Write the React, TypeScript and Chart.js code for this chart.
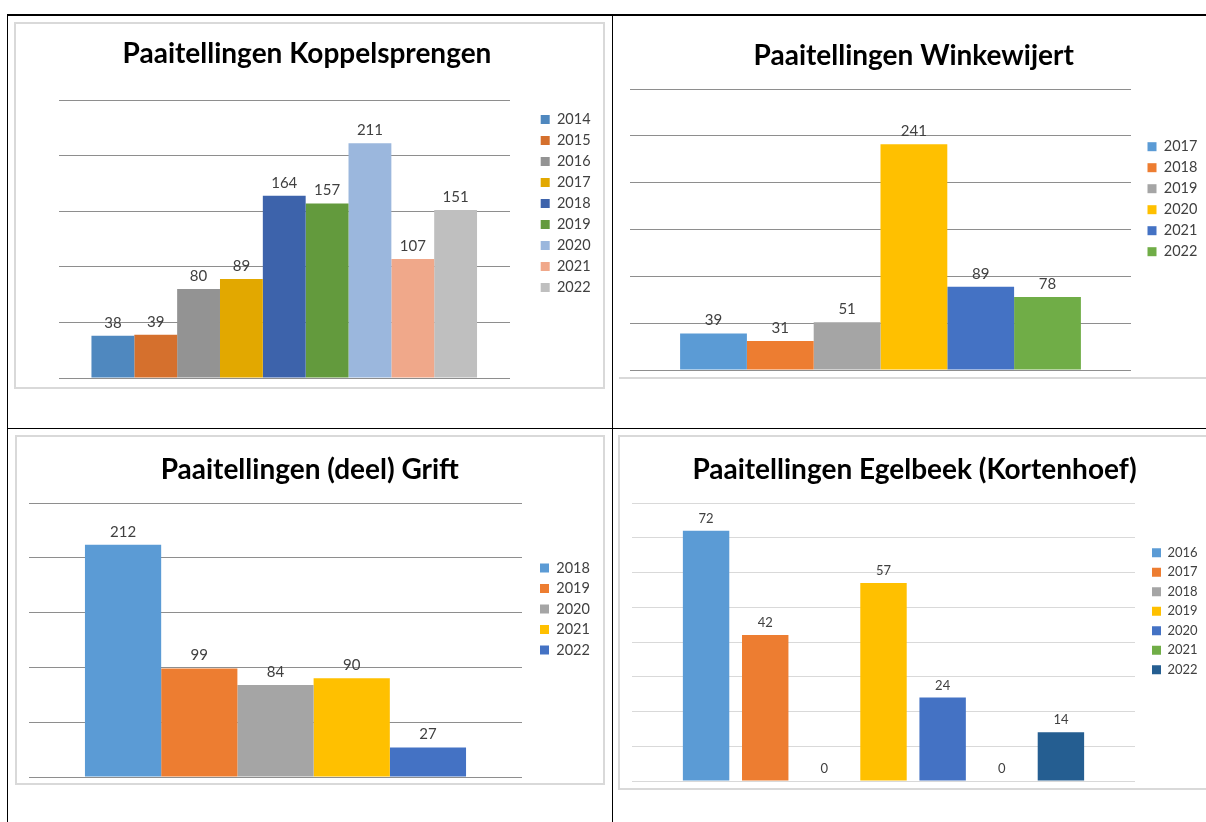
import React, { useEffect, useRef } from "react";
import { Chart, registerables } from "chart.js";

Chart.register(...registerables);

// ---------- data ----------
const koppelTitle = "Paaitellingen Koppelsprengen";
const koppelYears = ["2014", "2015", "2016", "2017", "2018", "2019", "2020", "2021", "2022"];
const koppelValues = [38, 39, 80, 89, 164, 157, 211, 107, 151];
const koppelColors = ["#4f88bf", "#d5702d", "#939393", "#e2a800", "#3d63ab", "#639a3d", "#9bb7dd", "#f0a88a", "#bfbfbf"];
const koppelTicks = [0, 50, 100, 150, 200, 250];

const winkeTitle = "Paaitellingen Winkewijert";
const winkeYears = ["2017", "2018", "2019", "2020", "2021", "2022"];
const winkeValues = [39, 31, 51, 241, 89, 78];
const winkeColors = ["#5b9bd5", "#ed7d31", "#a5a5a5", "#ffc000", "#4472c4", "#70ad47"];
const winkeTicks = [0, 50, 100, 150, 200, 250, 300];

const griftTitle = "Paaitellingen (deel) Grift";
const griftYears = ["2018", "2019", "2020", "2021", "2022"];
const griftValues = [212, 99, 84, 90, 27];
const griftColors = ["#5b9bd5", "#ed7d31", "#a5a5a5", "#ffc000", "#4472c4"];
const griftTicks = [0, 50, 100, 150, 200, 250];

const egelTitle = "Paaitellingen Egelbeek (Kortenhoef)";
const egelYears = ["2016", "2017", "2018", "2019", "2020", "2021", "2022"];
const egelValues = [72, 42, 0, 57, 24, 0, 14];
const egelColors = ["#5b9bd5", "#ed7d31", "#a5a5a5", "#ffc000", "#4472c4", "#70ad47", "#255e91"];
const egelTicks = [0, 10, 20, 30, 40, 50, 60, 70, 80];

// ---------- layout ----------
const LEGEND_W = 58;
const FONT = "Lato, 'Open Sans', sans-serif";

type Spec = {
  title: string;
  years: string[];
  values: number[];
  colors: string[];
  ticks: number[];
  x0: number; y0: number; w: number; h: number;
  plotLeft: number; plotRight: number; plotTop: number; plotBottom: number;
  titleX: number; titleY: number; titleSize: number;
  legendBoxX: number; legendFirst: number; legendSize: number; legendPad: number;
  labelSize: number;
  gridColor: string;
  barPct: number; catPct: number;
};

const specs: Spec[] = [
  {
    title: koppelTitle, years: koppelYears, values: koppelValues, colors: koppelColors, ticks: koppelTicks,
    x0: 14, y0: 22, w: 591, h: 367,
    plotLeft: 58.5, plotRight: 510, plotTop: 100, plotBottom: 378,
    titleX: 307, titleY: 54, titleSize: 28,
    legendBoxX: 540.7, legendFirst: 119.5, legendSize: 14.5, legendPad: 6.5,
    labelSize: 15, gridColor: "#8e8e8e", barPct: 1, catPct: 0.854,
  },
  {
    title: winkeTitle, years: winkeYears, values: winkeValues, colors: winkeColors, ticks: winkeTicks,
    x0: 619, y0: 14, w: 587, h: 364,
    plotLeft: 630, plotRight: 1131, plotTop: 89, plotBottom: 370,
    titleX: 913.7, titleY: 56, titleSize: 28,
    legendBoxX: 1147.5, legendFirst: 146.7, legendSize: 14.5, legendPad: 6.5,
    labelSize: 15, gridColor: "#8e8e8e", barPct: 1, catPct: 0.8,
  },
  {
    title: griftTitle, years: griftYears, values: griftValues, colors: griftColors, ticks: griftTicks,
    x0: 15, y0: 435, w: 590, h: 350,
    plotLeft: 29, plotRight: 522, plotTop: 503, plotBottom: 777,
    titleX: 309.8, titleY: 470, titleSize: 28,
    legendBoxX: 540, legendFirst: 568, legendSize: 14.5, legendPad: 6,
    labelSize: 15, gridColor: "#8e8e8e", barPct: 1, catPct: 0.773,
  },
  {
    title: egelTitle, years: egelYears, values: egelValues, colors: egelColors, ticks: egelTicks,
    x0: 619, y0: 435, w: 587, h: 354,
    plotLeft: 632, plotRight: 1135, plotTop: 503, plotBottom: 781,
    titleX: 914.5, titleY: 470, titleSize: 28,
    legendBoxX: 1152, legendFirst: 552.8, legendSize: 13, legendPad: 6.5,
    labelSize: 13, gridColor: "#d9d9d9", barPct: 0.785, catPct: 0.823,
  },
];

const valueLabels = {
  id: "valueLabels",
  afterDatasetsDraw(chart: any, _args: any, opts: any) {
    const ctx = chart.ctx;
    ctx.save();
    ctx.font = `${opts.size}px ${FONT}`;
    ctx.fillStyle = opts.color;
    ctx.textAlign = "center";
    ctx.textBaseline = "alphabetic";
    chart.data.datasets.forEach((ds: any, i: number) => {
      const meta = chart.getDatasetMeta(i);
      meta.data.forEach((el: any, j: number) => {
        ctx.fillText(String(ds.data[j]), el.x, el.y - opts.gap);
      });
    });
    ctx.restore();
  },
};

function BarPanel({ spec }: { spec: Spec }) {
  const ref = useRef<HTMLCanvasElement>(null);
  useEffect(() => {
    const s = spec;
    const gap = s.legendBoxX - s.legendPad - s.plotRight;
    const pr = s.x0 + s.w - (s.plotRight + gap + LEGEND_W);
    const pl = 2 * (s.titleX - s.x0) - s.w + pr;
    const leftAxis = Math.max(0, s.plotLeft - s.x0 - pl);
    const lh = s.titleSize * 1.2;
    const tTop = s.titleY - s.y0 - lh / 2;
    const tBottom = s.plotTop - s.y0 - tTop - lh;
    const legendTitleH = Math.max(1, s.legendFirst - s.y0 - s.legendPad - s.legendSize / 2);
    const bottomPad = s.y0 + s.h - s.plotBottom;

    const chart = new Chart(ref.current as HTMLCanvasElement, {
      type: "bar",
      data: {
        labels: [""],
        datasets: s.years.map((y, i) => ({
          label: y,
          data: [s.values[i]],
          backgroundColor: s.colors[i],
          borderWidth: 0,
          barPercentage: s.barPct,
          categoryPercentage: s.catPct,
        })),
      },
      options: {
        responsive: false,
        animation: false,
        devicePixelRatio: 1,
        layout: { padding: { left: pl, right: pr, top: 0, bottom: bottomPad } },
        scales: {
          x: { display: false },
          y: {
            position: "left",
            min: s.ticks[0],
            max: s.ticks[s.ticks.length - 1],
            ticks: { display: false, stepSize: s.ticks[1] - s.ticks[0] },
            grid: { color: s.gridColor, drawTicks: false, lineWidth: 1 },
            border: { display: false },
            afterFit: (sc: any) => { sc.width = leftAxis; },
          },
          yGap: {
            type: "linear",
            position: "right",
            ticks: { display: false },
            grid: { display: false, drawTicks: false },
            border: { display: false },
            afterFit: (sc: any) => { sc.width = gap; },
          },
        },
        plugins: {
          title: {
            display: true,
            text: s.title,
            color: "#000000",
            font: { family: FONT, size: s.titleSize, weight: "bold" },
            padding: { top: tTop, bottom: tBottom },
          },
          legend: {
            display: true,
            position: "right",
            align: "start",
            maxWidth: LEGEND_W,
            title: { display: true, text: "", font: { size: 1, lineHeight: 1 }, padding: { top: legendTitleH - 1, bottom: 0 } },
            labels: {
              boxWidth: 9,
              boxHeight: 9,
              padding: s.legendPad,
              color: "#404040",
              font: { family: FONT, size: s.legendSize },
            },
          },
          tooltip: { enabled: false },
          valueLabels: { size: s.labelSize, color: "#404040", gap: 8 },
        } as any,
      },
      plugins: [valueLabels as any],
    } as any);
    return () => chart.destroy();
  }, [spec]);
  return (
    <canvas
      ref={ref}
      width={spec.w}
      height={spec.h}
      style={{ position: "absolute", left: spec.x0, top: spec.y0, width: spec.w, height: spec.h }}
    />
  );
}

const line = (style: React.CSSProperties) => (
  <div style={{ position: "absolute", background: "#000", ...style }} />
);

export default function App() {
  return (
    <div style={{ position: "absolute", left: 0, top: 0, width: 1206, height: 822, overflow: "hidden", background: "#fff" }}>
      {/* chart frames */}
      <div style={{ position: "absolute", left: 14, top: 22, width: 591, height: 367, boxSizing: "border-box", border: "2px solid #d9d9d9" }} />
      <div style={{ position: "absolute", left: 619, top: 14, width: 600, height: 365, boxSizing: "border-box", borderBottom: "2px solid #d9d9d9" }} />
      <div style={{ position: "absolute", left: 15, top: 435, width: 590, height: 350, boxSizing: "border-box", border: "2px solid #d9d9d9" }} />
      <div style={{ position: "absolute", left: 618, top: 435, width: 600, height: 355, boxSizing: "border-box", border: "2px solid #d9d9d9" }} />
      {specs.map((s, i) => (
        <BarPanel key={i} spec={s} />
      ))}
      {/* table lines */}
      {line({ left: 7, top: 14, width: 1199, height: 1.5 })}
      {line({ left: 7, top: 427.5, width: 1199, height: 1.5 })}
      {line({ left: 6.5, top: 14, width: 1.5, height: 808 })}
      {line({ left: 611.5, top: 14, width: 1.5, height: 808 })}
    </div>
  );
}
